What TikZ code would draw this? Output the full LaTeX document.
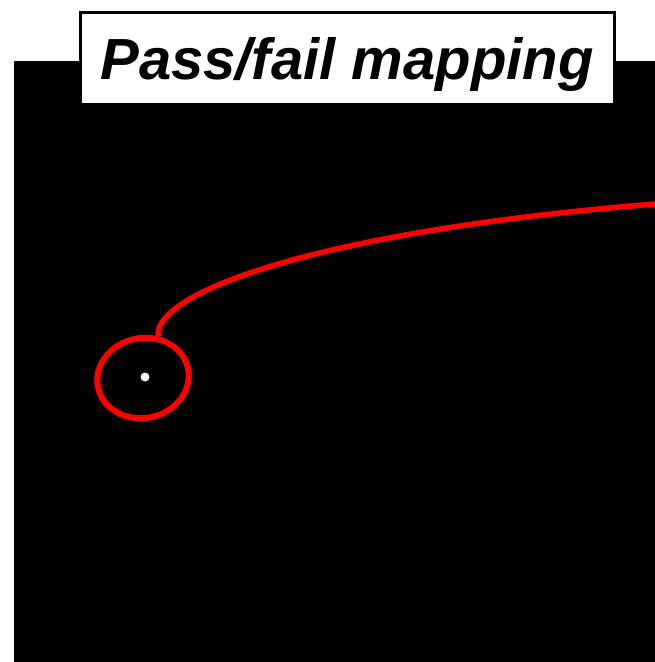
\documentclass[tikz,border=0pt]{standalone}
\usepackage{fontspec}
\setmainfont{Liberation Sans}
\definecolor{pfred}{HTML}{FF0000}
\usetikzlibrary{shapes.geometric}

\begin{document}
\begin{tikzpicture}[x=1pt,y=-1pt]
  \useasboundingbox (0,0) rectangle (655,662);
  \fill[black] (14,61) rectangle (655,662);
  \node[draw=black,fill=white,line width=3pt,minimum width=534,minimum height=92,inner sep=0pt,text depth=0pt,
        font=\fontsize{58}{62}\selectfont\bfseries\itshape] (title) at (347,58) {Pass/fail mapping};
  \node[fill=white,circle,inner sep=0pt,minimum size=9] (spot) at (145,377) {};
  \node[draw=pfred,line width=6pt,ellipse,minimum width=92,minimum height=80,inner sep=0pt,rotate=12] (ring) at (143,378) {};
  \coordinate (edge) at (655,204);
  \draw[pfred,line width=5.5pt] (158,336) .. controls (155,290) and (330,230) .. (edge);
\end{tikzpicture}
\end{document}
